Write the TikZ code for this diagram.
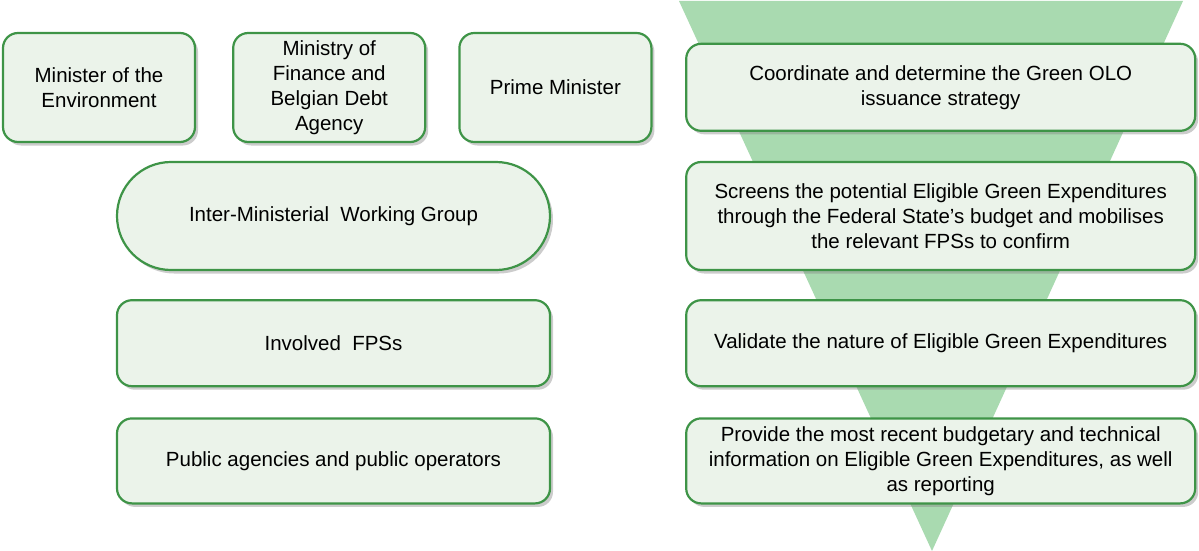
\documentclass[tikz,border=0pt]{standalone}
\usepackage{fontspec}
\setmainfont{Liberation Sans}
\usetikzlibrary{positioning,shadows}

\definecolor{boxfill}{HTML}{EBF3EA}
\definecolor{boxline}{HTML}{3E9447}
\definecolor{funnel}{HTML}{A9DAB0}

\tikzset{
  box/.style={draw=boxline,line width=2.2pt,fill=boxfill,rounded corners=15pt,
    align=center,inner sep=2pt,
    drop shadow={shadow xshift=3pt,shadow yshift=-3.5pt,opacity=0.4}},
  toprole/.style={box,minimum width=192pt,minimum height=109pt},
  wide/.style={box,minimum width=433pt},
  task/.style={box,minimum width=509pt}
}

\begin{document}
\begin{tikzpicture}[x=1pt,y=1pt,font=\fontsize{20.5}{25}\selectfont]
\useasboundingbox (0,0) rectangle (1199,-551);

% funnel behind the task boxes
\fill[funnel] (679,-1) -- (1183,-1) -- (932,-551) -- cycle;

% who
\node[toprole] (env) at (99,-87.5) {Minister of the\\Environment};
\node[toprole] (mof)[right=36pt of env] {Ministry of\\Finance and\\Belgian Debt\\Agency};
\node[toprole] (pm)[right=32pt of mof] {Prime Minister};

\node[wide,minimum height=108pt,rounded corners=54pt] (iwg) at (333.5,-216)
  {Inter-Ministerial\ \ Working Group};
\node[wide,minimum height=86pt] (fps)[below=28pt of iwg] {Involved\ \ FPSs};
\node[wide,minimum height=85pt] (pub)[below=30pt of fps] {Public agencies and public operators};

% what
\node[task,minimum height=108pt] (screen)[right=134pt of iwg]
  {Screens the potential Eligible Green Expenditures\\through the Federal State’s budget and mobilises\\the relevant FPSs to confirm};
\node[task,minimum height=87pt] (olo)[above=29pt of screen]
  {Coordinate and determine the Green OLO\\issuance strategy};
\node[task,minimum height=86pt] (valid)[right=134pt of fps]
  {Validate the nature of Eligible Green Expenditures};
\node[task,minimum height=85pt] (info)[right=134pt of pub]
  {Provide the most recent budgetary and technical\\information on Eligible Green Expenditures, as well\\as reporting};

\end{tikzpicture}
\end{document}
